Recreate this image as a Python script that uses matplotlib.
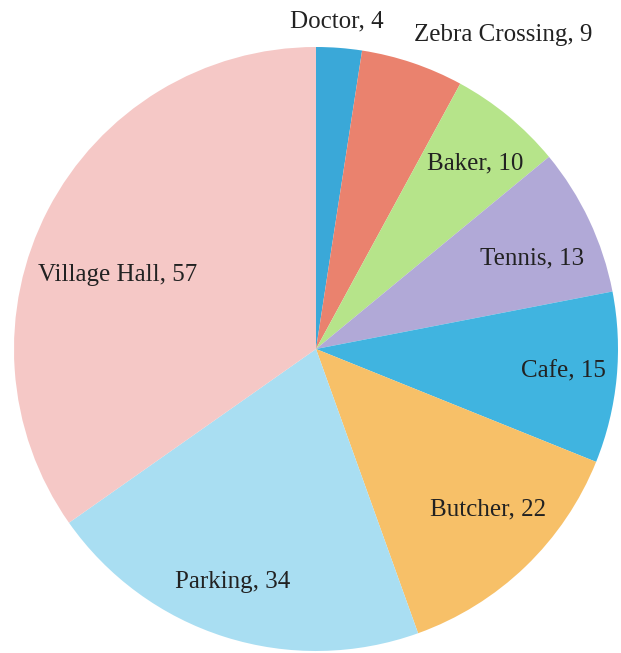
import matplotlib
matplotlib.use("Agg")
import matplotlib.pyplot as plt

# slice data, clockwise from 12 o'clock
categories = ['Doctor', 'Zebra Crossing', 'Baker', 'Tennis', 'Cafe', 'Butcher', 'Parking', 'Village Hall']
counts = [4, 9, 10, 13, 15, 22, 34, 57]

colors = ['#3aa8d8', '#ea826e', '#b6e48a', '#b1a9d7', '#40b4e0', '#f7c068', '#a9def2', '#f5c8c6']
# label centres in axes data units (pie radius = 1)
label_x = [0.070, 0.619, 0.526, 0.715, 0.818, 0.570, -0.275, -0.656]
label_y = [1.086, 1.040, 0.616, 0.301, -0.076, -0.530, -0.772, 0.245]

fig = plt.figure(figsize=(6.21, 6.53), dpi=100)
fig.patch.set_facecolor('white')
ax = fig.add_axes([14 / 621, 2 / 653, 604 / 621, 604 / 653])

ax.pie(counts, colors=colors, startangle=90, counterclock=False, radius=1,
       wedgeprops=dict(linewidth=0))

for name, val, x, y in zip(categories, counts, label_x, label_y):
    ax.text(x, y, f"{name}, {val}", ha='center', va='center',
            fontsize=18, family='Liberation Serif', color='#222222')

ax.set_xlim(-1, 1)
ax.set_ylim(-1, 1)
ax.set_aspect('equal')
ax.axis('off')

fig.savefig('out.png', dpi=100)
